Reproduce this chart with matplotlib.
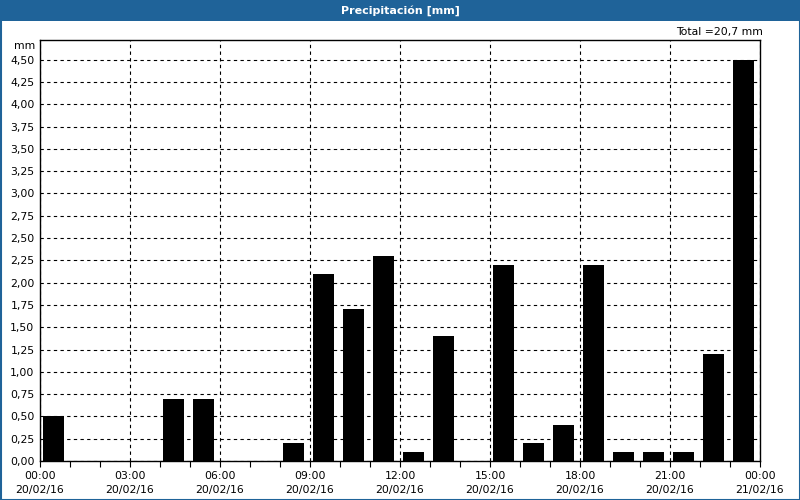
import matplotlib
matplotlib.use("Agg")
import matplotlib.pyplot as plt
from matplotlib.patches import Rectangle
import numpy as np

hours = list(range(24))
precip = [0.5, 0, 0, 0, 0.7, 0.7, 0, 0, 0.2, 2.1, 1.7, 2.3, 0.1, 1.4, 0,
          2.2, 0.2, 0.4, 2.2, 0.1, 0.1, 0.1, 1.2, 4.5]
xtick_hours = [0, 3, 6, 9, 12, 15, 18, 21, 24]
xtick_labels = ["00:00\n20/02/16", "03:00\n20/02/16", "06:00\n20/02/16",
                "09:00\n20/02/16", "12:00\n20/02/16", "15:00\n20/02/16",
                "18:00\n20/02/16", "21:00\n20/02/16", "00:00\n21/02/16"]
yticks = [i * 0.25 for i in range(19)]
ytick_labels = [f"{v:.2f}".replace(".", ",") for v in yticks]
title = "Precipitación [mm]"
total_text = "Total =20,7 mm"

plt.rcParams['font.family'] = ['DejaVu Sans']
W, H = 800, 500
fig = plt.figure(figsize=(8, 5), dpi=100)
fig.patch.set_facecolor("white")

# title bar
blue = "#1f6399"
fig.add_artist(Rectangle((0, 1 - 21 / H), 1, 21 / H, transform=fig.transFigure,
                         facecolor=blue, edgecolor="none"))
fig.add_artist(Rectangle((0.5 / W, 0.5 / H), 1 - 1 / W, 1 - 1 / H, transform=fig.transFigure,
                         facecolor="none", edgecolor=blue, lw=1.5))
fig.text(0.5, 1 - 10.5 / H, title, color="white", fontsize=8, fontweight="bold",
         ha="center", va="center")

left, right, top, bottom = 40, 760, 40, 461
ax = fig.add_axes([left / W, 1 - bottom / H, (right - left) / W, (bottom - top) / H])
ax.bar([h + 0.1 for h in hours], precip, width=0.7, align="edge", color="black", zorder=3)
ax.set_xlim(0, 24)
ax.set_ylim(0, 4.72)
ax.set_xticks(xtick_hours)
ax.set_xticklabels(xtick_labels, fontsize=7.8, linespacing=1.55)
ax.set_xticks(range(25), minor=True)
ax.set_yticks(yticks)
ax.set_yticklabels(ytick_labels, fontsize=7.8)
ax.tick_params(axis="x", which="both", direction="out", length=4, width=0.8, pad=3)
ax.tick_params(axis="y", which="both", length=0, pad=4)
ax.grid(True, which="major", color="black", linestyle=(0, (3, 3)), linewidth=0.8, zorder=1)
for s in ax.spines.values():
    s.set_linewidth(1.0)
ax.text(-0.006, 1 - 6 / (bottom - top), "mm", transform=ax.transAxes, ha="right",
        va="center", fontsize=7.8)
fig.text((right + 3) / W, 1 - 32 / H, total_text, ha="right", va="center", fontsize=7.8)

fig.savefig("out.png", dpi=100)
